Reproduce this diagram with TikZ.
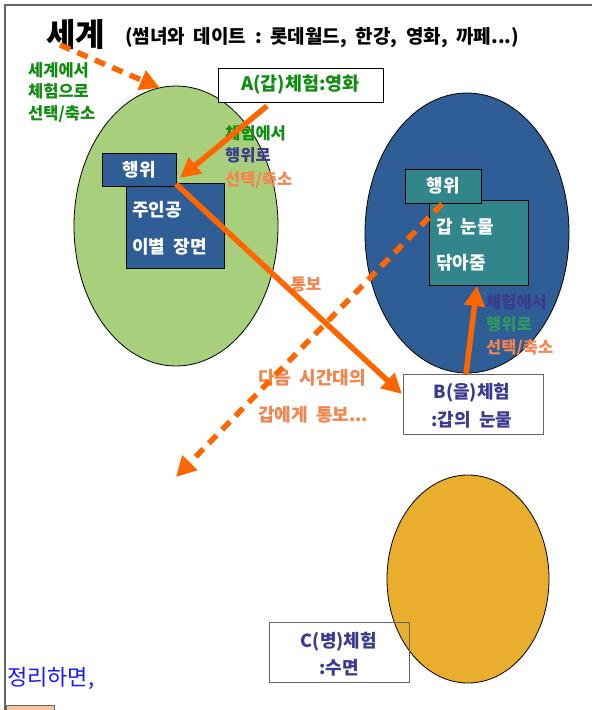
\documentclass[tikz,border=0pt]{standalone}
\usepackage{fontspec}
\newfontfamily\kr{Noto Sans CJK KR}
\usetikzlibrary{arrows.meta,shapes.geometric}
\definecolor{lgreen}{HTML}{A8D07C}
\definecolor{boxblue}{HTML}{2F5E96}
\definecolor{tealc}{HTML}{31868C}
\definecolor{orng}{HTML}{FF6600}
\definecolor{lorange}{HTML}{F4834C}
\definecolor{ochre}{HTML}{E9AE2E}
\definecolor{dgreen}{HTML}{108C10}
\definecolor{navy}{HTML}{3A3A8E}
\definecolor{seag}{HTML}{2E9A5E}
\definecolor{bluetxt}{HTML}{1919FF}
\definecolor{peach}{HTML}{F8C49A}
\definecolor{framegray}{HTML}{666666}
\begin{document}
\begin{tikzpicture}[x=1pt,y=-1pt,
  lbl/.style={inner sep=0pt, font=\kr\bfseries\fontsize{16.5}{16.5}\selectfont},
  blbl/.style={inner sep=0pt, font=\kr\bfseries\fontsize{18}{18}\selectfont},
  wbox/.style={draw=black, line width=0.8pt, inner sep=0pt},
  fbox/.style={draw=black, line width=0.8pt, inner sep=0pt},
  oval/.style={ellipse, draw=black, line width=0.8pt, inner sep=0pt},
  arr/.style={draw=orng, line width=5.5pt, -{Triangle[length=20pt,width=20pt,fill=orng]}},
  dasharr/.style={arr, dash pattern=on 11pt off 8pt}
]
\useasboundingbox (0,0) rectangle (592,710);
\fill[white] (0,0) rectangle (592,710);
\draw[framegray, line width=1.3pt] (5,712) -- (5,5) -- (594,5);

% title
\node[inner sep=0pt, font=\kr\bfseries\fontsize{32}{32}\selectfont, anchor=west] (title) at (46,34) {세계};
\node[blbl, anchor=west, font=\kr\bfseries\fontsize{19}{19}\selectfont] (sub) at (125,38) {(썸녀와\ \ 데이트\ \ :\ \ 롯데월드,\ \ 한강,\ \ 영화,\ \ 까페...)};

% left green labels
\node[lbl, text=dgreen, anchor=west] (g1) at (28,70) {세계에서};
\node[lbl, text=dgreen, anchor=west] (g2) at (28,91) {체험으로};
\node[lbl, text=dgreen, anchor=west] (g3) at (28,114) {선택/축소};

% green ellipse
\node[oval, fill=lgreen, minimum width=204pt, minimum height=280pt] (E1) at (176,226) {};
\node[fbox, fill=boxblue, minimum width=98pt, minimum height=85pt] (m1) at (175,225.5) {};
\node[fbox, fill=boxblue, minimum width=74pt, minimum height=33pt, text=white, font=\kr\bfseries\fontsize{18}{18}\selectfont] (h1) at (139,169.5) {행위};
\node[blbl, text=white, anchor=west] (m1a) at (132,210) {주인공};
\node[blbl, text=white, anchor=west] (m1b) at (132,247) {이별\ \ 장면};

% blue ellipse
\node[oval, fill=boxblue, minimum width=204pt, minimum height=280pt] (E2) at (467,233) {};
\node[fbox, fill=tealc, minimum width=99pt, minimum height=85pt] (m2) at (478.5,242.5) {};
\node[fbox, fill=tealc, minimum width=76pt, minimum height=34pt, text=white, font=\kr\bfseries\fontsize{18}{18}\selectfont] (h2) at (443,186) {행위};
\node[blbl, text=white, anchor=west] (m2a) at (436,227) {갑\ \ 눈물};
\node[blbl, text=white, anchor=west] (m2b) at (436,263) {닦아줌};

% A box
\node[wbox, fill=white, minimum width=165pt, minimum height=34pt, text=dgreen, font=\kr\bfseries\fontsize{18.5}{18.5}\selectfont] (A) at (300.5,85) {A(갑)체험:영화};

% B box
\node[draw=framegray, line width=1pt, fill=white, inner sep=0pt, minimum width=140pt, minimum height=60pt] (B) at (473,404) {};
\node[blbl, text=navy] (Ba) at (472,393) {B(을)체험};
\node[blbl, text=navy] (Bb) at (472,420) {:갑의\ \ 눈물};

% orange ellipse and C box
\node[oval, fill=ochre, minimum width=162pt, minimum height=208pt] (E3) at (468,579) {};
\node[draw=framegray, line width=1pt, inner sep=0pt, minimum width=140pt, minimum height=60pt] (C) at (339,652) {};
\node[blbl, text=navy] (Ca) at (339,642) {C(병)체험};
\node[blbl, text=navy] (Cb) at (339,668) {:수면};

% labels near A arrow
\node[lbl, text=dgreen, anchor=west] (t1) at (225,133) {체험에서};
\node[lbl, text=navy, anchor=west] (t2) at (225,155) {행위로};
\node[lbl, text=lorange, anchor=west] (t3) at (225,180) {선택/축소};

% labels near up arrow
\node[lbl, text=navy, anchor=west] (r1) at (486,302) {체험에서};
\node[lbl, text=seag, anchor=west] (r2) at (486,324) {행위로};
\node[lbl, text=lorange, anchor=west] (r3) at (486,348) {선택/축소};

% other labels
\node[lbl, text=lorange] (tb) at (306,285) {통보};
\node[blbl, text=lorange, anchor=west] (n1) at (258,378) {다음\ \ 시간대의};
\node[blbl, text=lorange, anchor=west] (n2) at (258,415) {갑에게\ \ 통보...};

% summary
\node[inner sep=0pt, anchor=west, text=bluetxt, font=\kr\fontsize{22}{22}\selectfont] (sum) at (7,678) {정리하면,};
\draw[draw=framegray, fill=peach, line width=0.8pt] (6,705) rectangle (54,725);

% connectors
\coordinate (d1s) at (60,45);
\coordinate (d1e) at (160,88);
\draw[dasharr] (d1s) -- (d1e);

\coordinate (a1s) at (267,106);
\coordinate (a1e) at (180,178);
\draw[arr] (a1s) -- (a1e);

\coordinate (l1s) at (176,184);
\coordinate (l1e) at (402,394);
\draw[arr] (l1s) -- (l1e);

\coordinate (u1s) at (466,374);
\coordinate (u1e) at (477,286);
\draw[arr] (u1s) -- (u1e);

\coordinate (d2s) at (442,204);
\coordinate (d2e) at (176,477);
\draw[dasharr] (d2s) -- (d2e);
\end{tikzpicture}
\end{document}
